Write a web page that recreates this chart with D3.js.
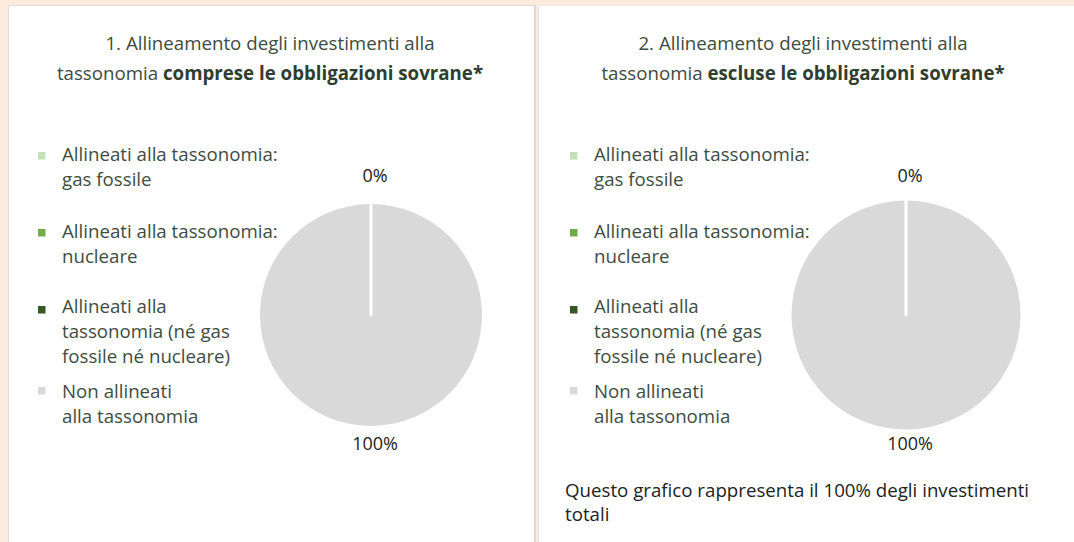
<!DOCTYPE html>
<html>
<head>
<meta charset="utf-8">
<script src="https://cdn.jsdelivr.net/npm/d3@7"></script>
<style>
  html, body { margin: 0; padding: 0; background: #fcebdc; }
  svg { display: block; }
  text { font-family: "Open Sans", sans-serif; }
</style>
</head>
<body>
<svg id="chart" width="1074" height="542"></svg>
<script>
// ---- data ----
const categories = [
  "Allineati alla tassonomia: gas fossile",
  "Allineati alla tassonomia: nucleare",
  "Allineati alla tassonomia (né gas fossile né nucleare)",
  "Non allineati alla tassonomia"
];
const legendLines = [
  ["Allineati alla tassonomia:", "gas fossile"],
  ["Allineati alla tassonomia:", "nucleare"],
  ["Allineati alla", "tassonomia (né gas", "fossile né nucleare)"],
  ["Non allineati", "alla tassonomia"]
];
const sliceColors = ["#c5e0b4", "#70ad47", "#385723", "#d9d9d9"];
const valuesInclSovereign = [0, 0, 0, 100];
const valuesExclSovereign = [0, 0, 0, 100];
const titleLine1 = ["1. Allineamento degli investimenti alla", "2. Allineamento degli investimenti alla"];
const titleLine2Regular = ["tassonomia ", "tassonomia "];
const titleLine2Bold = ["comprese le obbligazioni sovrane*", "escluse le obbligazioni sovrane*"];
const footnote = ["Questo grafico rappresenta il 100% degli investimenti", "totali"];

// ---- layout ----
const FS = 18.7;
const svg = d3.select("#chart");
const panels = [
  { x: 8, w: 527, titleX: 270, legendX: 38, textX: 62, cx: 371, cy: 315, r: 111, values: valuesInclSovereign },
  { x: 538, w: 560, titleX: 803, legendX: 570, textX: 594, cx: 906, cy: 315, r: 114.5, values: valuesExclSovereign }
];
const legendBaselines = [161, 238, 313, 398];
const markerOffsets = [-9, -9, -7, -11];

// panel backgrounds
panels.forEach((p, i) => {
  svg.append("rect")
    .attr("x", p.x + 0.5).attr("y", 5.5)
    .attr("width", p.w).attr("height", 600)
    .attr("fill", "#ffffff")
    .attr("stroke", i === 0 ? "#dcdcdc" : "#e4e4e4")
    .attr("stroke-width", 1);
});
svg.append("rect").attr("x", 534).attr("y", 6).attr("width", 2).attr("height", 540).attr("fill", "#dcd9d6");

const pie = d3.pie().sort(null).value(d => d);
const fmt = d3.format(".0f");

panels.forEach((p, i) => {
  const g = svg.append("g");

  // title
  g.append("text")
    .attr("x", p.titleX).attr("y", 50)
    .attr("text-anchor", "middle")
    .attr("font-size", FS).attr("fill", "#3d4b40")
    .text(titleLine1[i]);
  const t2 = g.append("text")
    .attr("x", p.titleX).attr("y", 80)
    .attr("text-anchor", "middle")
    .attr("font-size", FS).attr("fill", "#3d4b40");
  t2.append("tspan").text(titleLine2Regular[i]);
  t2.append("tspan").attr("font-weight", "bold").attr("fill", "#2f3e31").text(titleLine2Bold[i]);

  // legend
  categories.forEach((c, k) => {
    const base = legendBaselines[k];
    g.append("rect")
      .attr("x", p.legendX).attr("y", base + markerOffsets[k])
      .attr("width", 7.5).attr("height", 7.5)
      .attr("fill", sliceColors[k]);
    const t = g.append("text")
      .attr("x", p.textX).attr("y", base)
      .attr("font-size", FS).attr("fill", "#3e4d43");
    legendLines[k].forEach((line, j) => {
      t.append("tspan").attr("x", p.textX).attr("dy", j === 0 ? 0 : 25).text(line);
    });
  });

  // pie
  const arcs = pie(p.values);
  const arc = d3.arc().innerRadius(0).outerRadius(p.r);
  const pg = g.append("g").attr("transform", `translate(${p.cx},${p.cy})`);
  pg.selectAll("path").data(arcs).join("path")
    .attr("d", arc)
    .attr("fill", (d, k) => sliceColors[k]);

  // white slice separators at each slice boundary
  const boundaries = Array.from(new Set(arcs.map(d => d.startAngle.toFixed(6)))).map(Number);
  pg.selectAll("line.sep").data(boundaries).join("line")
    .attr("class", "sep")
    .attr("x1", 0).attr("y1", 0)
    .attr("x2", a => Math.sin(a) * (p.r + 2))
    .attr("y2", a => -Math.cos(a) * (p.r + 2))
    .attr("stroke", "#ffffff")
    .attr("stroke-width", 3)
    .attr("stroke-linecap", "round");

  // labels (one per distinct position)
  const labelArc = d3.arc().innerRadius(134).outerRadius(134);
  const seen = new Set();
  const labels = arcs.filter(d => {
    const key = fmt(d.data) + "|" + ((d.startAngle + d.endAngle) / 2).toFixed(3);
    if (seen.has(key)) return false;
    seen.add(key);
    return true;
  });
  pg.selectAll("text.lbl").data(labels).join("text")
    .attr("class", "lbl")
    .attr("x", d => labelArc.centroid(d)[0] + 4)
    .attr("y", d => labelArc.centroid(d)[1] + 1)
    .attr("text-anchor", "middle")
    .attr("font-size", 18).attr("fill", "#222222")
    .text(d => fmt(d.data) + "%");
});

// footnote (second panel)
const fn = svg.append("text")
  .attr("x", 565).attr("y", 497)
  .attr("font-size", FS).attr("fill", "#222222");
footnote.forEach((line, j) => {
  fn.append("tspan").attr("x", 565).attr("dy", j === 0 ? 0 : 24).text(line);
});
</script>
</body>
</html>
